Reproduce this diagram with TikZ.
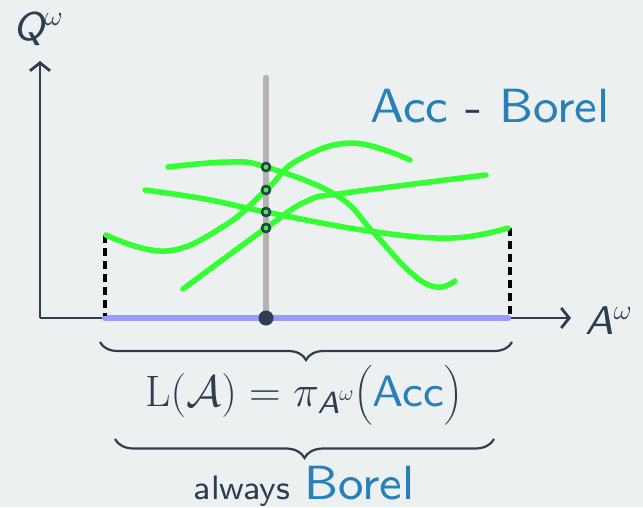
\RequirePackage{fix-cm}
\documentclass[tikz,border=0pt]{standalone}
\usepackage{amsmath}
\usepackage{fontspec}
\setsansfont{lmsans8-regular.otf}[ItalicFont=lmsans8-oblique.otf]
\usetikzlibrary{arrows.meta,decorations.pathreplacing}
\definecolor{bg}{HTML}{ECF0F1}
\definecolor{ink}{HTML}{2C3E50}
\definecolor{accblue}{HTML}{2980B9}
\definecolor{curvegreen}{HTML}{33FF33}
\definecolor{langpurple}{HTML}{9999FF}
\definecolor{fibergray}{HTML}{B3B3B3}
\begin{document}
\begin{tikzpicture}[x=1pt,y=-1pt,
  axis/.style={draw=ink,line width=2.8pt,-{Straight Barb[length=8pt,width=20pt,line width=2.8pt]}},
  guide/.style={draw=black,line width=3.2pt,dash pattern=on 8pt off 5pt},
  run/.style={draw=curvegreen,line width=5.5pt,line cap=round},
  meet/.style={fill=curvegreen,draw=ink,line width=2.6pt},
  bracebar/.style={draw=ink,line width=2.2pt,decorate},
  lbl/.style={inner sep=0pt,text=ink,font=\sffamily}]
\fill[bg] (0,0) rectangle (643,507);
\useasboundingbox (0,0) rectangle (643,507);
% axes
\coordinate (o) at (40,318);
\coordinate (ytip) at (40,61);
\coordinate (xtip) at (571,318);
\draw[axis] (o) -- (ytip);
\draw[axis] (o) -- (xtip);
% language segment
\coordinate (la) at (105,318);
\coordinate (lb) at (508,318);
\draw[langpurple,line width=6.5pt,line cap=round] (la) -- (lb);
% dashed guides
\coordinate (da1) at (105,235);
\coordinate (da2) at (105,316);
\coordinate (db1) at (510,228);
\coordinate (db2) at (510,316);
\draw[guide] (da1) -- (da2);
\draw[guide] (db1) -- (db2);
% fiber
\coordinate (ftop) at (266,78);
\coordinate (fbot) at (266,318);
\draw[fibergray,line width=6.5pt,line cap=round] (ftop) -- (fbot);
% curves
\draw[run] plot[smooth,tension=0.7] coordinates {(106,235) (166,251) (224,226) (266,190) (298,160) (352,143) (410,160)};
\draw[run] plot[smooth,tension=0.7] coordinates {(168,167) (229,162) (266,167) (336,195) (373,232) (410,272) (436,287) (455,281)};
\draw[run] plot[smooth,tension=0.7] coordinates {(145,190) (205,199) (266,212) (369,231) (451,238) (508,228)};
\draw[run] plot[smooth,tension=0.7] coordinates {(183,289) (266,228) (307,201) (345,193) (486,175)};
% intersection points
\foreach \yy in {167,190,212,228} \draw[meet] (266,\yy) circle (4pt);
\fill[ink] (fbot) circle (7.5pt);
% labels
\node[lbl,font=\sffamily\fontsize{40}{40}\selectfont,anchor=base west] (qlab) at (13,40) {\itshape Q$^{\omega}$};
\node[lbl,font=\sffamily\fontsize{40}{40}\selectfont,anchor=base west] (alab) at (585,334) {\itshape A$^{\omega}$};
\node[lbl,font=\sffamily\fontsize{48}{48}\selectfont,anchor=base] (accborel) at (490,122) {\textcolor{accblue}{Acc} - \textcolor{accblue}{Borel}};
% braces
\coordinate (b1r) at (512,342);
\coordinate (b1l) at (100,342);
\draw[bracebar,decoration={brace,amplitude=18pt}] (b1r) -- (b1l);
\node[lbl,font=\fontsize{44}{44}\selectfont] (formula) at (304,395) {$\mathrm{L}(\mathcal{A}) = \pi_{\text{\sffamily\itshape A}^{\omega}}\bigl(\text{\sffamily\color{accblue}Acc}\bigr)$};
\coordinate (b2r) at (494,439);
\coordinate (b2l) at (115,439);
\draw[bracebar,decoration={brace,amplitude=19pt}] (b2r) -- (b2l);
\node[lbl,anchor=base,font=\sffamily\fontsize{34}{34}\selectfont] (always) at (304,499) {always\hspace{14pt}{\fontsize{48}{48}\selectfont\color{accblue}Borel}};
\end{tikzpicture}
\end{document}
